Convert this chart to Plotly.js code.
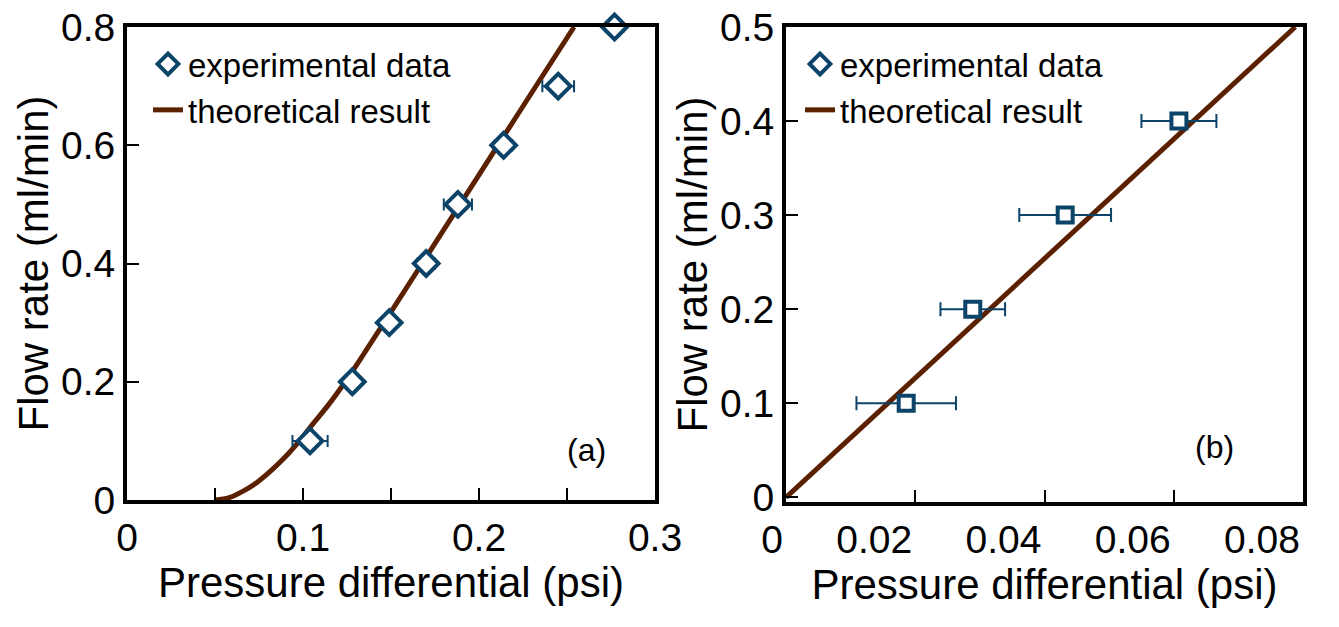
<!DOCTYPE html>
<html>
<head>
<meta charset="utf-8">
<script src="https://cdn.plot.ly/plotly-3.0.1.min.js"></script>
<style>
  html, body { margin: 0; padding: 0; background: #fff; }
  #chart { width: 1339px; height: 627px; }
</style>
</head>
<body>
<div id="chart"></div>
<script>
// ---------------------------------------------------------------------------
// 데이터
// ---------------------------------------------------------------------------

// (a) 실험값
const expPressureA = [0.104, 0.128, 0.149, 0.170, 0.188, 0.214, 0.245, 0.277];
const expFlowA = [0.1, 0.2, 0.3, 0.4, 0.5, 0.6, 0.7, 0.8];
const expErrA = [0.010, 0.004, 0.003, 0.005, 0.008, 0.005, 0.009, 0.005];

// (a) 이론 곡선
const theoryPressureA = [0.05, 0.058, 0.066, 0.074, 0.082, 0.09, 0.098, 0.106, 0.115, 0.124, 0.133, 0.15, 0.175, 0.2, 0.225, 0.254];
const theoryFlowA = [0, 0.004, 0.015, 0.03, 0.05, 0.073, 0.1, 0.13, 0.163, 0.2, 0.24, 0.318, 0.434, 0.55, 0.666, 0.8];

// (b) 실험값
const expPressureB = [0.0186, 0.0289, 0.0432, 0.0608];
const expFlowB = [0.1, 0.2, 0.3, 0.4];
const expErrB = [0.0077, 0.005, 0.0071, 0.0058];

// (b) 이론 직선
const theoryPressureB = [0, 0.0788];
const theoryFlowB = [0, 0.5];

const legendLabels = ['experimental data', 'theoretical result'];
const panelLabels = ['(a)', '(b)'];

// ---------------------------------------------------------------------------
// 스타일
// ---------------------------------------------------------------------------

const W = 1339, H = 627;
const BLUE = '#0b4468';
const BROWN = '#5a2000';
const FONT = 'Liberation Sans, Arial, sans-serif';

function axisBase(extra) {
    return Object.assign({
        showline: true,
        linewidth: 4,
        linecolor: '#000',
        mirror: true,
        showgrid: false,
        zeroline: false,
        ticks: 'inside',
        ticklen: 12,
        tickwidth: 2,
        tickcolor: '#000',
        ticklabelstandoff: 0,
        tickfont: { family: FONT, size: 39, color: '#000' }
    }, extra);
}

function axisTitle(text, standoff) {
    return { text: text, standoff: standoff, font: { family: FONT, size: 42, color: '#000' } };
}

// ---------------------------------------------------------------------------
// 트레이스
// ---------------------------------------------------------------------------

const diamondMarker = { symbol: 'diamond', size: 19, color: '#fff', line: { color: BLUE, width: 4 } };

const traces = [
    {
        x: theoryPressureA, y: theoryFlowA,
        type: 'scatter', mode: 'lines',
        line: { color: BROWN, width: 5, shape: 'spline' },
        name: legendLabels[1],
        xaxis: 'x', yaxis: 'y', legend: 'legend', legendrank: 2
    },
    {
        x: expPressureA, y: expFlowA,
        type: 'scatter', mode: 'markers',
        marker: diamondMarker,
        error_x: { type: 'data', array: expErrA, color: BLUE, thickness: 2, width: 6 },
        name: legendLabels[0],
        xaxis: 'x', yaxis: 'y', legend: 'legend', legendrank: 1,
        cliponaxis: false
    },
    {
        x: theoryPressureB, y: theoryFlowB,
        type: 'scatter', mode: 'lines',
        line: { color: BROWN, width: 5 },
        name: legendLabels[1],
        xaxis: 'x2', yaxis: 'y2', legend: 'legend2', legendrank: 2
    },
    {
        x: expPressureB, y: expFlowB,
        type: 'scatter', mode: 'markers',
        marker: { symbol: 'square', size: 15, color: '#fff', line: { color: BLUE, width: 4 } },
        error_x: { type: 'data', array: expErrB, color: BLUE, thickness: 2, width: 7 },
        name: legendLabels[0],
        xaxis: 'x2', yaxis: 'y2', showlegend: false
    },
    // (b) 범례는 원본처럼 다이아몬드 기호로 표시
    {
        x: [null], y: [null],
        type: 'scatter', mode: 'markers',
        marker: diamondMarker,
        name: legendLabels[0],
        xaxis: 'x2', yaxis: 'y2', legend: 'legend2', legendrank: 1
    }
];

// ---------------------------------------------------------------------------
// 레이아웃
// ---------------------------------------------------------------------------

const legendStyle = {
    xanchor: 'left', yanchor: 'top',
    bgcolor: 'rgba(0,0,0,0)',
    font: { family: FONT, size: 33, color: '#000' },
    tracegroupgap: 0
};

const layout = {
    width: W, height: H,
    margin: { l: 0, r: 0, t: 0, b: 0 },
    paper_bgcolor: '#fff',
    plot_bgcolor: '#fff',
    font: { family: FONT },
    showlegend: true,
    xaxis: axisBase({
        domain: [127 / W, 655 / W],
        range: [0, 0.3],
        tick0: 0, dtick: 0.1,
        minor: { dtick: 0.05, ticks: 'inside', ticklen: 12, tickwidth: 2, tickcolor: '#000' },
        title: axisTitle('Pressure differential (psi)', 0),
        anchor: 'y'
    }),
    yaxis: axisBase({
        domain: [1 - 500 / H, 1 - 27 / H],
        range: [0, 0.8],
        tick0: 0, dtick: 0.2,
        title: axisTitle('Flow rate (ml/min)', 0),
        anchor: 'x'
    }),
    xaxis2: axisBase({
        domain: [786 / W, 1303 / W],
        range: [0, 0.08],
        tick0: 0, dtick: 0.02,
        ticklabelposition: 'outside left',
        title: axisTitle('Pressure differential (psi)', 0),
        anchor: 'y2'
    }),
    yaxis2: axisBase({
        domain: [1 - 502 / H, 1 - 27 / H],
        range: [-0.005, 0.5],
        tick0: 0, dtick: 0.1,
        title: axisTitle('Flow rate (ml/min)', 0),
        anchor: 'x2'
    }),
    legend: Object.assign({ x: 148 / W, y: 1 - 36 / H }, legendStyle),
    legend2: Object.assign({ x: 800 / W, y: 1 - 36 / H }, legendStyle),
    annotations: [
        {
            text: panelLabels[0], xref: 'x domain', yref: 'y domain',
            x: 0.911, y: 0.064, showarrow: false,
            font: { family: FONT, size: 32, color: '#000' }
        },
        {
            text: panelLabels[1], xref: 'x2 domain', yref: 'y2 domain',
            x: 0.870, y: 0.074, showarrow: false,
            font: { family: FONT, size: 32, color: '#000' }
        }
    ]
};

Plotly.newPlot('chart', traces, layout, { staticPlot: true, displayModeBar: false });
</script>
</body>
</html>
